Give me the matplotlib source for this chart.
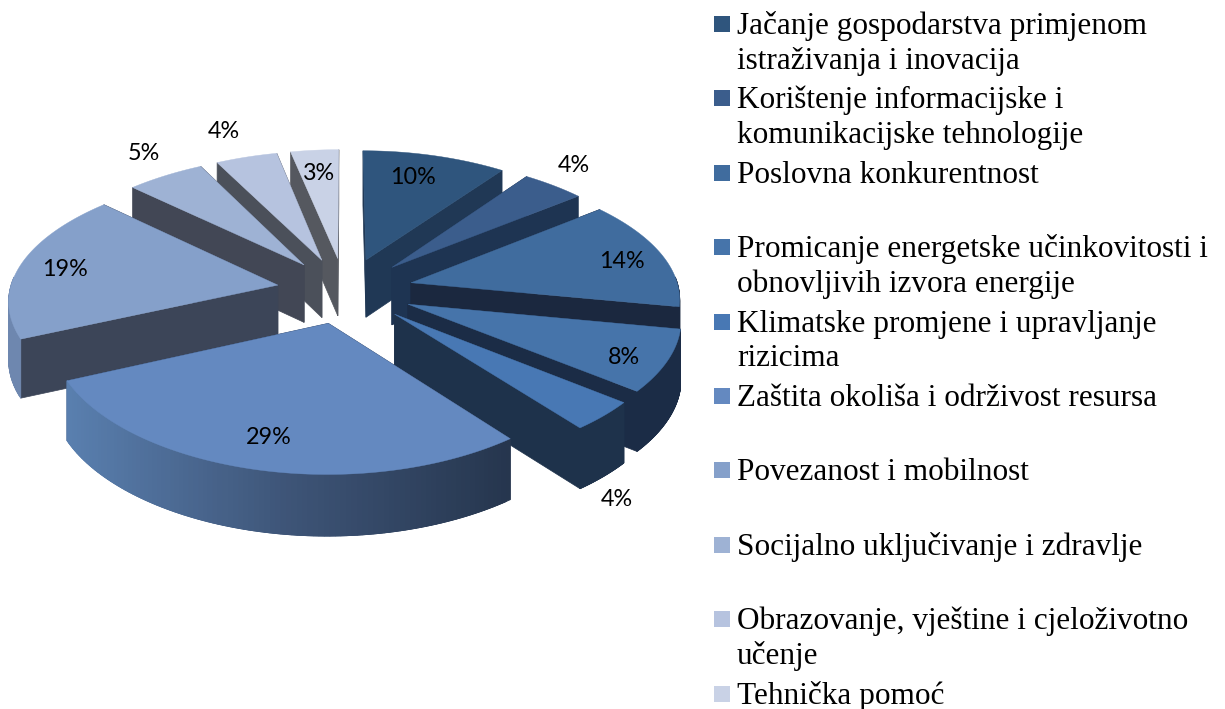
import numpy as np
import matplotlib
matplotlib.use('Agg')
import matplotlib.pyplot as plt
from matplotlib.colors import LinearSegmentedColormap

categories = [
    'Jačanje gospodarstva primjenom\nistraživanja i inovacija',
    'Korištenje informacijske i\nkomunikacijske tehnologije',
    'Poslovna konkurentnost',
    'Promicanje energetske učinkovitosti i\nobnovljivih izvora energije',
    'Klimatske promjene i upravljanje\nrizicima',
    'Zaštita okoliša i održivost resursa',
    'Povezanost i mobilnost',
    'Socijalno uključivanje i zdravlje',
    'Obrazovanje, vještine i cjeloživotno\nučenje',
    'Tehnička pomoć',
]
# labels only show whole percents, the slice angles say a bit more
shares = [10.3, 4.3, 13.6, 7.7, 3.7, 29.4, 18.6, 5.4, 4.4, 3.49]

top_colors = ['#2f557d', '#3b5d8c', '#406c9e', '#4674aa', '#4878b4',
              '#6489c0', '#85a0ca', '#9eb2d4', '#b6c3df', '#c9d2e6']
side_colors = ['#203855', '#1e3452', '#1b283f', '#1b2c46', '#1e324b',
               '#2a3a55', '#3c4558', '#424755', '#4b505a', '#55585f']
# where the percent labels sit, in pixels
label_xy = [(413, 177), (574, 166), (622, 262), (624, 358), (617, 500),
            (269, 437), (65, 269), (144, 153), (224, 131), (319, 173)]

# camera, fitted by eye to the reference
CX = 345
EXPLODE = 0.255
DEPTH = 58
y_poly = np.polyfit([-1.25, -0.25, 0.245, 1.245], [150, 259, 323, 474], 3)
arc_cmap = LinearSegmentedColormap.from_list('arc', ['#5a80b0', '#3e5578', '#26364e'])


def project(u, v):
    g = 1 + 0.11 * v - 0.02 * v ** 2
    return CX + 268 * u * g, np.polyval(y_poly, v)


def thickness(v):
    return DEPTH * (1 + 0.05 * v)


def draw_slice(ax, start, end, top, side, gradient=False):
    mid = (start + end) / 2
    du, dv = EXPLODE * np.sin(mid), -EXPLODE * np.cos(mid)
    th = np.linspace(start, end, 100)
    u = np.concatenate([[0], np.sin(th)]) + du
    v = np.concatenate([[0], -np.cos(th)]) + dv
    x, y = project(u, v)
    t = thickness(v)

    # the two cut faces
    for i in (1, len(x) - 1):
        ax.fill([x[0], x[i], x[i], x[0]],
                [y[0], y[i], y[i] + t[i], y[0] + t[0]],
                color=side, lw=0.5, zorder=2)

    # outer rim, only the part turned to the viewer
    # each quad reaches over the next one so no seams show
    for i in range(1, len(x) - 1):
        if np.cos(th[i - 1]) > 0.05:
            continue
        c = side
        if gradient:
            c = arc_cmap((x[i] - 64) / (511 - 64))
        elif x[i] < CX:
            c = '#6e87af'
        j = min(i + 2, len(x) - 1)
        ax.fill([x[i], x[i + 1], x[j], x[j], x[i + 1], x[i]],
                [y[i], y[i + 1], y[j], y[j] + t[j], y[i + 1] + t[i + 1], y[i] + t[i]],
                color=c, lw=0.6, zorder=2)

    ax.fill(x, y, color=top, lw=0.3, zorder=2)


def main():
    fig = plt.figure(figsize=(12.25, 7.09), dpi=100)
    ax = fig.add_axes([0, 0, 1, 1])
    ax.set_xlim(0, 1225)
    ax.set_ylim(709, 0)
    ax.axis('off')

    edges = np.cumsum([0] + shares) / sum(shares) * 2 * np.pi
    mids = (edges[:-1] + edges[1:]) / 2
    # back to front
    for i in np.argsort(-np.cos(mids)):
        draw_slice(ax, edges[i], edges[i + 1], top_colors[i], side_colors[i], gradient=(i == 5))

    for s, (lx, ly) in zip(shares, label_xy):
        ax.text(lx, ly, f'{s:.0f}%', ha='center', va='center', fontsize=16.8,
                family='Lato', color='black', zorder=5)

    for i, name in enumerate(categories):
        y = 24 + 74.4 * i
        ax.fill([714, 730, 730, 714], [y - 8, y - 8, y + 8, y + 8], color=top_colors[i], lw=0)
        for j, line in enumerate(name.split('\n')):
            ax.text(737, y + 10 + 34.5 * j, line, ha='left', va='baseline',
                    fontsize=22.5, family='Liberation Serif', color='black')

    fig.savefig('out.png', dpi=100)


if __name__ == '__main__':
    main()
